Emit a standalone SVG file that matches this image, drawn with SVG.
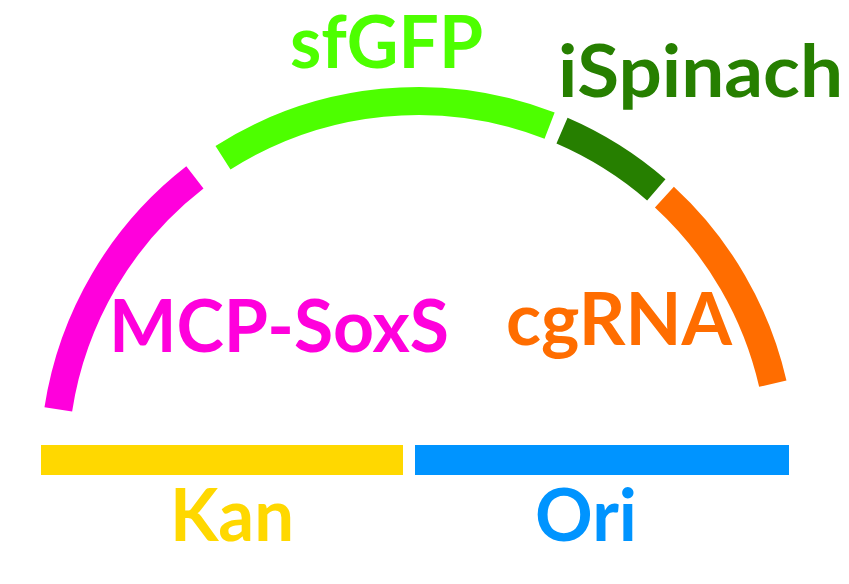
<svg xmlns="http://www.w3.org/2000/svg" width="849" height="584" viewBox="0 0 849 584">
  <style>
    .seg { fill: none; stroke-width: 28; stroke-linecap: butt; }
    .lbl { font-family: Lato, "Liberation Sans", "DejaVu Sans", sans-serif; font-weight: bold; font-size: 72px; }
  </style>
  <rect width="849" height="584" fill="#ffffff"/>
  <g id="mcp-soxs">
    <path class="seg" stroke="#FF00DC" d="M 58.3 409.3 A 364 364 0 0 1 194.9 177.4"/>
    <text class="lbl" fill="#FF00DC" x="109" y="352" textLength="340" lengthAdjust="spacingAndGlyphs">MCP-SoxS</text>
  </g>
  <g id="sfgfp">
    <path class="seg" stroke="#4DFF00" d="M 223.0 157.7 A 364 364 0 0 1 549.6 125.6"/>
    <text class="lbl" fill="#4DFF00" x="290" y="68" textLength="193" lengthAdjust="spacingAndGlyphs">sfGFP</text>
  </g>
  <g id="ispinach">
    <path class="seg" stroke="#267F00" d="M 562.0 130.7 A 364 364 0 0 1 656.3 189.9"/>
    <text class="lbl" fill="#267F00" x="558" y="97" textLength="285" lengthAdjust="spacingAndGlyphs">iSpinach</text>
  </g>
  <g id="cgrna">
    <path class="seg" stroke="#FF6D00" d="M 664.4 197.1 A 364 364 0 0 1 772.8 383.7"/>
    <text class="lbl" fill="#FF6D00" x="506" y="345" textLength="226" lengthAdjust="spacingAndGlyphs">cgRNA</text>
  </g>
  <g id="kan">
    <rect x="41" y="445" width="362" height="30" fill="#FFD800"/>
    <text class="lbl" fill="#FFD800" x="170" y="541" textLength="124" lengthAdjust="spacingAndGlyphs">Kan</text>
  </g>
  <g id="ori">
    <rect x="415" y="445" width="374" height="30" fill="#0094FF"/>
    <text class="lbl" fill="#0094FF" x="535" y="541" textLength="102" lengthAdjust="spacingAndGlyphs">Ori</text>
  </g>
</svg>
